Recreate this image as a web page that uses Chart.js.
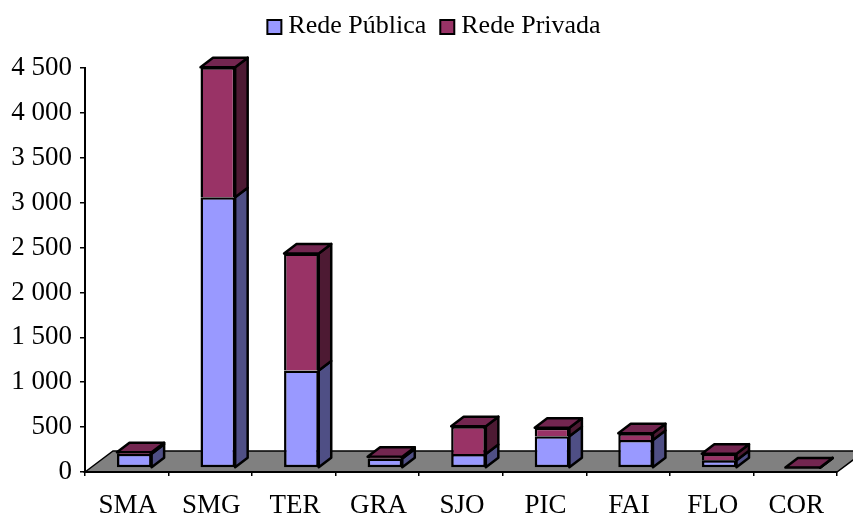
<!DOCTYPE html>
<html><head><meta charset="utf-8">
<style>html,body{margin:0;padding:0;background:#fff}#w{width:853px;height:516px}</style>
<script src="https://cdn.jsdelivr.net/npm/chart.js@4/dist/chart.umd.min.js"></script>
</head><body><div id="w"><canvas id="c" width="853" height="516"></canvas></div>
<script>
const categories = ["SMA","SMG","TER","GRA","SJO","PIC","FAI","FLO","COR"];
const redePublica = [160,3015,1085,105,155,353,311,85,3];
const redePrivada = [15,1450,1305,20,311,95,75,75,3];
const FONT = "'Liberation Serif','Times New Roman',serif";
const FRONT_DX = 7.5, FRONT_DY = -4, DEPTH_X = 12.5, DEPTH_Y = 9.5, FLOOR_X = 28, FLOOR_Y = 21;
const LEGEND_EXTRA = 4, LEGEND_DX = 19.5, LEGEND_DY = -15;
function poly(ctx, pts, fill){
  ctx.beginPath(); pts.forEach((p,i)=> i?ctx.lineTo(p[0],p[1]):ctx.moveTo(p[0],p[1])); ctx.closePath();
  ctx.fillStyle = fill; ctx.fill(); ctx.stroke();
}
const depth3d = {
  id:'depth3d',
  beforeLayout(chart){
    const lg = chart.legend;
    if(lg && !lg._patched){
      const fit = lg.fit;
      lg.fit = function(){ fit.call(this); this.height += LEGEND_EXTRA; };
      lg._patched = true;
    }
  },
  afterLayout(chart){
    const lg = chart.legend;
    lg.left += LEGEND_DX; lg.right += LEGEND_DX; lg.top += LEGEND_DY; lg.bottom += LEGEND_DY;
  },
  beforeDraw(chart){
    const {ctx, chartArea:a} = chart;
    ctx.save(); ctx.strokeStyle='#000'; ctx.lineWidth=1.5; ctx.lineJoin='miter';
    poly(ctx,[[a.left,a.bottom],[a.left+FLOOR_X,a.bottom-FLOOR_Y],[a.right+FLOOR_X,a.bottom-FLOOR_Y],[a.right,a.bottom]],'#808080');
    ctx.restore();
  },
  beforeDatasetsDraw(chart){
    const ctx = chart.ctx;
    ctx.save(); ctx.translate(FRONT_DX,FRONT_DY);
    ctx.strokeStyle='#000'; ctx.lineWidth=2.5; ctx.lineJoin='round';
    const sides=['#4f4f85','#4d1a33'];
    categories.forEach((_,i)=>{
      [0,1].forEach(d=>{
        const b = chart.getDatasetMeta(d).data[i], r = b.x+b.width/2, l = b.x-b.width/2;
        poly(ctx,[[r,b.y],[r+DEPTH_X,b.y-DEPTH_Y],[r+DEPTH_X,b.base-DEPTH_Y],[r,b.base]],sides[d]);
        if(d===1) poly(ctx,[[l,b.y],[l+DEPTH_X,b.y-DEPTH_Y],[r+DEPTH_X,b.y-DEPTH_Y],[r,b.y]],'#732650');
      });
    });
  },
  afterDatasetsDraw(chart){ chart.ctx.restore(); },
  afterDraw(chart){
    const lg = chart.legend, ctx = chart.ctx;
    ctx.save(); ctx.strokeStyle='#000'; ctx.lineWidth=2;
    lg.legendHitBoxes.forEach((h,i)=>{
      const cy = h.top + h.height/2 + 1;
      ctx.fillStyle = lg.legendItems[i].fillStyle;
      ctx.fillRect(h.left-8, cy-7, 14, 14);
      ctx.strokeRect(h.left-8, cy-7, 14, 14);
    });
    ctx.restore();
  }
};
new Chart(document.getElementById('c'),{
  type:'bar',
  data:{labels:categories,datasets:[
    {label:'Rede Pública',data:redePublica,backgroundColor:'#9999ff',borderColor:'#000',borderWidth:2.5,borderSkipped:false,clip:false},
    {label:'Rede Privada',data:redePrivada,backgroundColor:'#993366',borderColor:'#000',borderWidth:2.5,borderSkipped:'start',clip:false}
  ]},
  plugins:[depth3d],
  options:{
    responsive:false,animation:false,
    layout:{padding:{left:0,right:16,top:6,bottom:0}},
    datasets:{bar:{categoryPercentage:1,barPercentage:0.415}},
    plugins:{
      title:{display:false},tooltip:{enabled:false},
      legend:{display:true,position:'top',
        labels:{font:{family:FONT,size:26},color:'#000',boxWidth:0,boxHeight:0,padding:22}}
    },
    scales:{
      x:{stacked:true,
        grid:{display:true,drawOnChartArea:false,drawTicks:true,tickLength:4,color:'#000',lineWidth:1.5},
        border:{color:'#000',width:2},
        ticks:{color:'#000',font:{family:FONT,size:27},maxRotation:0,autoSkip:false,padding:14,labelOffset:1},
        afterFit(s){s.height=44;}
      },
      y:{stacked:true,min:0,max:4500,
        grid:{display:true,drawOnChartArea:false,drawTicks:true,tickLength:5,color:'#000',lineWidth:1.5},
        border:{color:'#000',width:2},
        ticks:{stepSize:500,color:'#000',font:{family:FONT,size:27},padding:8,
          callback:v=>String(v).replace(/\B(?=(\d{3})+$)/,' ')},
        afterFit(s){s.width=85;}
      }
    }
  }
});
</script></body></html>
